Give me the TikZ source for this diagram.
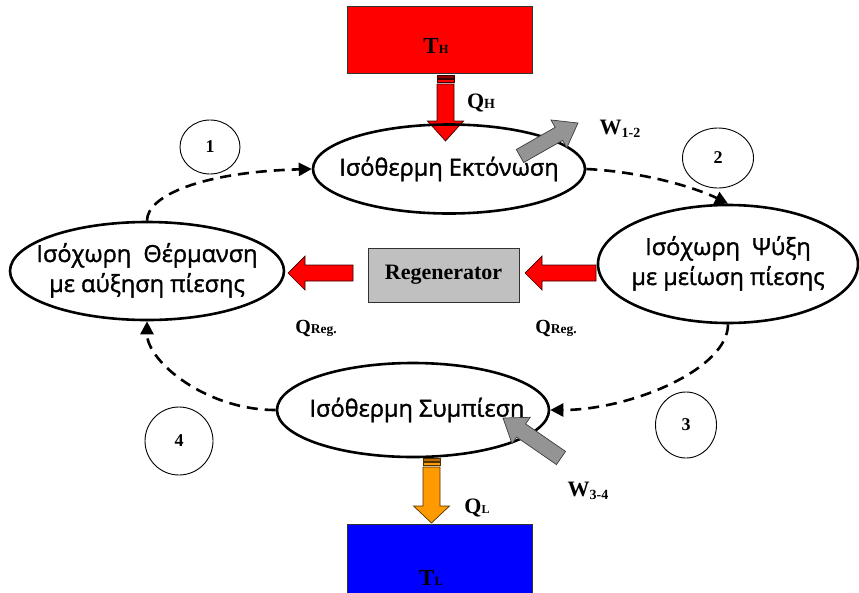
\documentclass[tikz,border=0pt]{standalone}
\usepackage{fontspec}
\setmainfont{Liberation Serif}
\newfontfamily\grk[FakeBold=1.5]{Open Sans}
\usetikzlibrary{arrows.meta,calc,shapes.geometric}
\definecolor{hotred}{HTML}{FF0000}
\definecolor{coldblue}{HTML}{0000FF}
\definecolor{qlorange}{HTML}{FF9A00}
\definecolor{regray}{HTML}{C0C0C0}
\definecolor{wgray}{HTML}{949494}
\definecolor{darkedge}{HTML}{3A0000}
% #1 style, #2 tail, #3 tip, #4 half shaft, #5 half head, #6 head length
\newcommand{\blockarrow}[6]{%
  \path ($(#3)!#6!(#2)$) coordinate (bahead);
  \draw[#1] ($(#2)!#4!90:(#3)$) -- ($(bahead)!#4!90:(#3)$) -- ($(bahead)!#5!90:(#3)$)
    -- (#3) -- ($(bahead)!#5!-90:(#3)$) -- ($(bahead)!#4!-90:(#3)$) -- ($(#2)!#4!-90:(#3)$) -- cycle;
}
\newcommand{\twolines}[2]{\begin{tabular}{@{}c@{}}#1\\#2\end{tabular}}
\begin{document}
\begin{tikzpicture}[x=1pt,y=-1pt,
  proc/.style={ellipse,draw,line width=2.6pt,inner xsep=-45pt,inner ysep=0pt,align=center,
    font=\grk\fontsize{23.5}{30}\selectfont},
  numc/.style={ellipse,draw,line width=0.9pt,inner sep=0pt,
    font=\bfseries\fontsize{18}{18}\selectfont},
  flow/.style={line width=2.6pt,dash pattern=on 11pt off 7pt,
    -{Triangle[length=13pt,width=13pt]}},
  lbl/.style={inner sep=0pt,font=\bfseries},
  reservoir/.style={draw={rgb,255:red,50;green,50;blue,50},line width=1pt},
  redarrow/.style={fill=hotred,draw=darkedge,line width=0.7pt},
  grayarrow/.style={fill=wgray,draw={rgb,255:red,60;green,60;blue,60},line width=0.7pt},
  orgarrow/.style={fill=qlorange,draw={rgb,255:red,80;green,50;blue,0},line width=0.7pt},
  stripe/.style={line width=0.6pt}
]
\useasboundingbox (0,0) rectangle (859,592);

% reservoirs
\draw[reservoir,fill=hotred] (347,6) rectangle (532,73);
\node[lbl] (th) at (436,46) {{\fontsize{23}{23}\selectfont T}{\fontsize{12.5}{12.5}\selectfont H}};
\draw[reservoir,fill=coldblue] (347,524) rectangle (532,596);
\node[lbl] (tl) at (431,578) {{\fontsize{23}{23}\selectfont T}{\fontsize{12.5}{12.5}\selectfont L}};

% Q_H arrow
\draw[stripe,fill={rgb,255:red,150;green,0;blue,0},draw=darkedge] (437,75.5) rectangle (454,78);
\draw[stripe,fill=hotred,draw=darkedge] (437,79.5) rectangle (454,82.5);
\coordinate (qhs) at (445.5,84);
\coordinate (qhe) at (445.5,141);
\blockarrow{redarrow}{qhs}{qhe}{8.5pt}{18pt}{20pt}
\node[lbl] (qh) at (481,103) {{\fontsize{22}{22}\selectfont Q}{\fontsize{14}{14}\selectfont H}};

% Q_L arrow
\draw[stripe,fill={rgb,255:red,190;green,110;blue,0},draw={rgb,255:red,80;green,50;blue,0}] (423,458) rectangle (440,461);
\draw[stripe,fill=qlorange,draw={rgb,255:red,80;green,50;blue,0}] (423,462.5) rectangle (440,465.5);
\coordinate (qls) at (431.5,467);
\coordinate (qle) at (431.5,523);
\blockarrow{orgarrow}{qls}{qle}{8.5pt}{18pt}{17pt}
\node[lbl] (ql) at (477,508) {{\fontsize{22}{22}\selectfont Q}{\fontsize{12}{12}\selectfont L}};

% process ellipses
\node[proc,minimum width=272pt,minimum height=89pt] (tope) at (449,169) {\raisebox{-3pt}{Ισόθερμη Εκτόνωση}};
\node[proc,minimum width=274pt,minimum height=98pt] (lefte) at (147,271) {\raisebox{-6pt}{\twolines{Ισόχωρη~~Θέρμανση}{με αύξηση πίεσης}}};
\node[proc,minimum width=260pt,minimum height=118pt] (righte) at (728,264) {\raisebox{-8pt}{\twolines{Ισόχωρη~~Ψύξη}{με μείωση πίεσης}}};
\node[proc,minimum width=272pt,minimum height=94pt] (bote) at (413,410) {\hspace*{8pt}Ισόθερμη Συμπίεση};

% regenerator
\node[draw={rgb,255:red,50;green,50;blue,50},line width=1pt,fill=regray,minimum width=151pt,minimum height=54pt,
  inner sep=0pt,font=\bfseries\fontsize{22}{22}\selectfont] (reg) at (443.5,275) {Regenerator};
\coordinate (rls) at (353,273);
\coordinate (rle) at (288,273);
\blockarrow{redarrow}{rls}{rle}{8pt}{17pt}{17pt}
\coordinate (rrs) at (596,273);
\coordinate (rre) at (525,273);
\blockarrow{redarrow}{rrs}{rre}{8pt}{17pt}{17pt}
\node[lbl] (qrl) at (316,328) {{\fontsize{20}{20}\selectfont Q}{\fontsize{13.5}{13.5}\selectfont Reg.}};
\node[lbl] (qrr) at (556,328) {{\fontsize{20}{20}\selectfont Q}{\fontsize{13.5}{13.5}\selectfont Reg.}};

% work arrows
\coordinate (w12s) at (520,156);
\coordinate (w12e) at (578,123);
\blockarrow{grayarrow}{w12s}{w12e}{7.5pt}{16pt}{22pt}
\node[lbl] (w12) at (620,129) {{\fontsize{22}{22}\selectfont W}\raisebox{-2.5pt}{\fontsize{14}{14}\selectfont 1-2}};
\coordinate (w34s) at (561,458);
\coordinate (w34e) at (503,418);
\blockarrow{grayarrow}{w34s}{w34e}{8pt}{16pt}{22pt}
\node[lbl] (w34) at (588,491) {{\fontsize{22}{22}\selectfont W}\raisebox{-2.5pt}{\fontsize{14}{14}\selectfont 3-4}};

% cycle connectors
\draw[flow] (lefte.north) .. controls +(0,-25) and +(-110,3) .. (tope.west);
\draw[flow] (tope.east) .. controls +(60,3) and +(-30,-15) .. (righte.north);
\draw[flow] (righte.south) .. controls +(0,45) and +(80,0) .. (bote.east);
\draw[flow] (bote.west) .. controls +(-70,0) and +(0,40) .. (lefte.south);

% numbered circles
\node[numc,minimum width=60pt,minimum height=54pt] (c1) at (210,147) {1};
\node[numc,minimum width=71pt,minimum height=60pt] (c2) at (718,158) {\raisebox{-9pt}{2}};
\node[numc,minimum width=61pt,minimum height=66pt] (c3) at (686,425) {\raisebox{-5pt}{3}};
\node[numc,minimum width=68pt,minimum height=68pt] (c4) at (179,441) {\raisebox{-5pt}{4}};
\end{tikzpicture}
\end{document}
